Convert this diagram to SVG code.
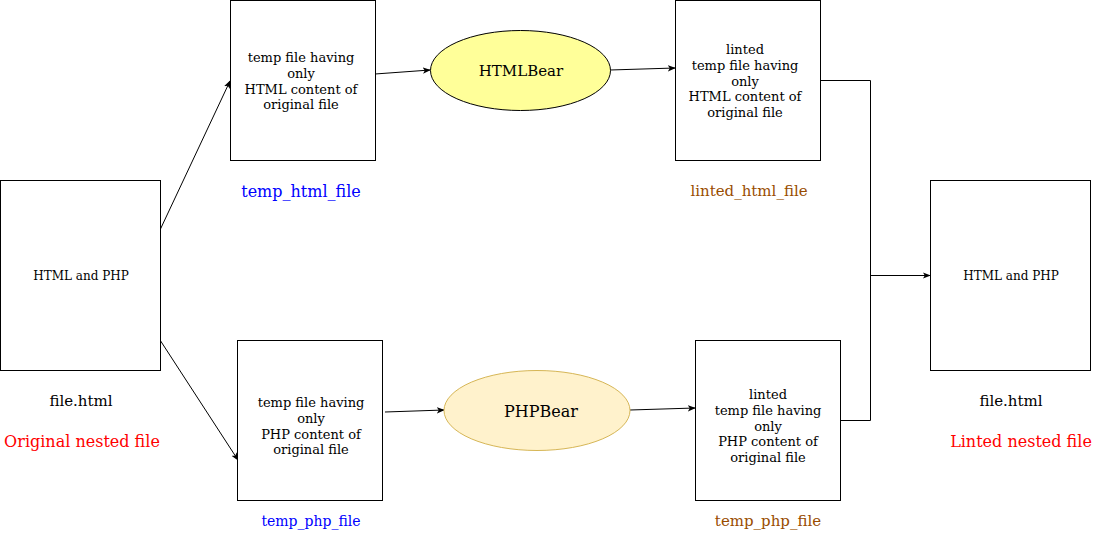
<svg xmlns="http://www.w3.org/2000/svg" width="1101" height="541" viewBox="0 0 1101 541">
<defs>
<marker id="arr" viewBox="0 0 10 10" refX="9" refY="5" markerWidth="8" markerHeight="8" markerUnits="userSpaceOnUse" orient="auto">
<path d="M0,1 L10,5 L0,9 L2.5,5 Z" fill="#000"/>
</marker>
<style>
.box{fill:#fff;stroke:#000;stroke-width:1}
.t{font-family:"DejaVu Serif",serif;fill:#000;text-anchor:middle}
.s13{font-size:13px}
.s12{font-size:12px}
.s15{font-size:15px}
.s16{font-size:16px}
.con{fill:none;stroke:#000;stroke-width:1}
</style>
</defs>
<rect width="1101" height="541" fill="#fff"/>
<g id="connectors">
<path class="con" d="M160,230 L230,81" marker-end="url(#arr)"/>
<path class="con" d="M160,340 L238,460" marker-end="url(#arr)"/>
<path class="con" d="M375,74 L430,70" marker-end="url(#arr)"/>
<path class="con" d="M610,70 L675,68" marker-end="url(#arr)"/>
<path class="con" d="M385,412 L444,410" marker-end="url(#arr)"/>
<path class="con" d="M630,410 L695,408" marker-end="url(#arr)"/>
<path class="con" d="M820.5,80.5 H870.5 V420.5 H840.5"/>
<path class="con" d="M870.5,275.5 H930" marker-end="url(#arr)"/>
</g>
<g id="original">
<rect class="box" x="0.5" y="180.5" width="160" height="190"/>
<text class="t s12" x="81" y="280">HTML and PHP</text>
<text class="t s15" x="81" y="406">file.html</text>
<text class="t s16" x="82" y="447" fill="#ff0000" style="fill:#ff0000">Original nested file</text>
</g>
<g id="temp_html">
<rect class="box" x="230.5" y="0.5" width="145" height="160"/>
<text class="t s13" x="301" y="62">temp file having</text>
<text class="t s13" x="301" y="78">only</text>
<text class="t s13" x="301" y="94">HTML content of</text>
<text class="t s13" x="301" y="109">original file</text>
<text class="t s16" x="301" y="197" style="fill:#0000ff">temp_html_file</text>
</g>
<g id="htmlbear">
<ellipse cx="520.5" cy="70.5" rx="90" ry="40" fill="#ffff99" stroke="#000" stroke-width="1"/>
<text class="t s15" x="521" y="76">HTMLBear</text>
</g>
<g id="linted_html">
<rect class="box" x="675.5" y="0.5" width="145" height="160"/>
<text class="t s13" x="745" y="54">linted</text>
<text class="t s13" x="745" y="70">temp file having</text>
<text class="t s13" x="745" y="86">only</text>
<text class="t s13" x="745" y="101">HTML content of</text>
<text class="t s13" x="745" y="117">original file</text>
<text class="t s15" x="749" y="196" style="fill:#994c00">linted_html_file</text>
</g>
<g id="temp_php">
<rect class="box" x="237.5" y="340.5" width="145" height="160"/>
<text class="t s13" x="311" y="407">temp file having</text>
<text class="t s13" x="311" y="423">only</text>
<text class="t s13" x="311" y="439">PHP content of</text>
<text class="t s13" x="311" y="454">original file</text>
<text class="t s13" x="311" y="526" style="fill:#0000ff;font-size:14px">temp_php_file</text>
</g>
<g id="phpbear">
<ellipse cx="537" cy="410.5" rx="93" ry="40" fill="#fff2cc" stroke="#d6b656" stroke-width="1"/>
<text class="t s16" x="541" y="417">PHPBear</text>
</g>
<g id="linted_php">
<rect class="box" x="695.5" y="340.5" width="145" height="160"/>
<text class="t s13" x="768" y="399">linted</text>
<text class="t s13" x="768" y="415">temp file having</text>
<text class="t s13" x="768" y="431">only</text>
<text class="t s13" x="768" y="446">PHP content of</text>
<text class="t s13" x="768" y="462">original file</text>
<text class="t s15" x="768" y="526" style="fill:#994c00">temp_php_file</text>
</g>
<g id="linted">
<rect class="box" x="930.5" y="180.5" width="160" height="190"/>
<text class="t s12" x="1011" y="280">HTML and PHP</text>
<text class="t s15" x="1011" y="406">file.html</text>
<text class="t s16" x="1021" y="447" style="fill:#ff0000">Linted nested file</text>
</g>
</svg>
